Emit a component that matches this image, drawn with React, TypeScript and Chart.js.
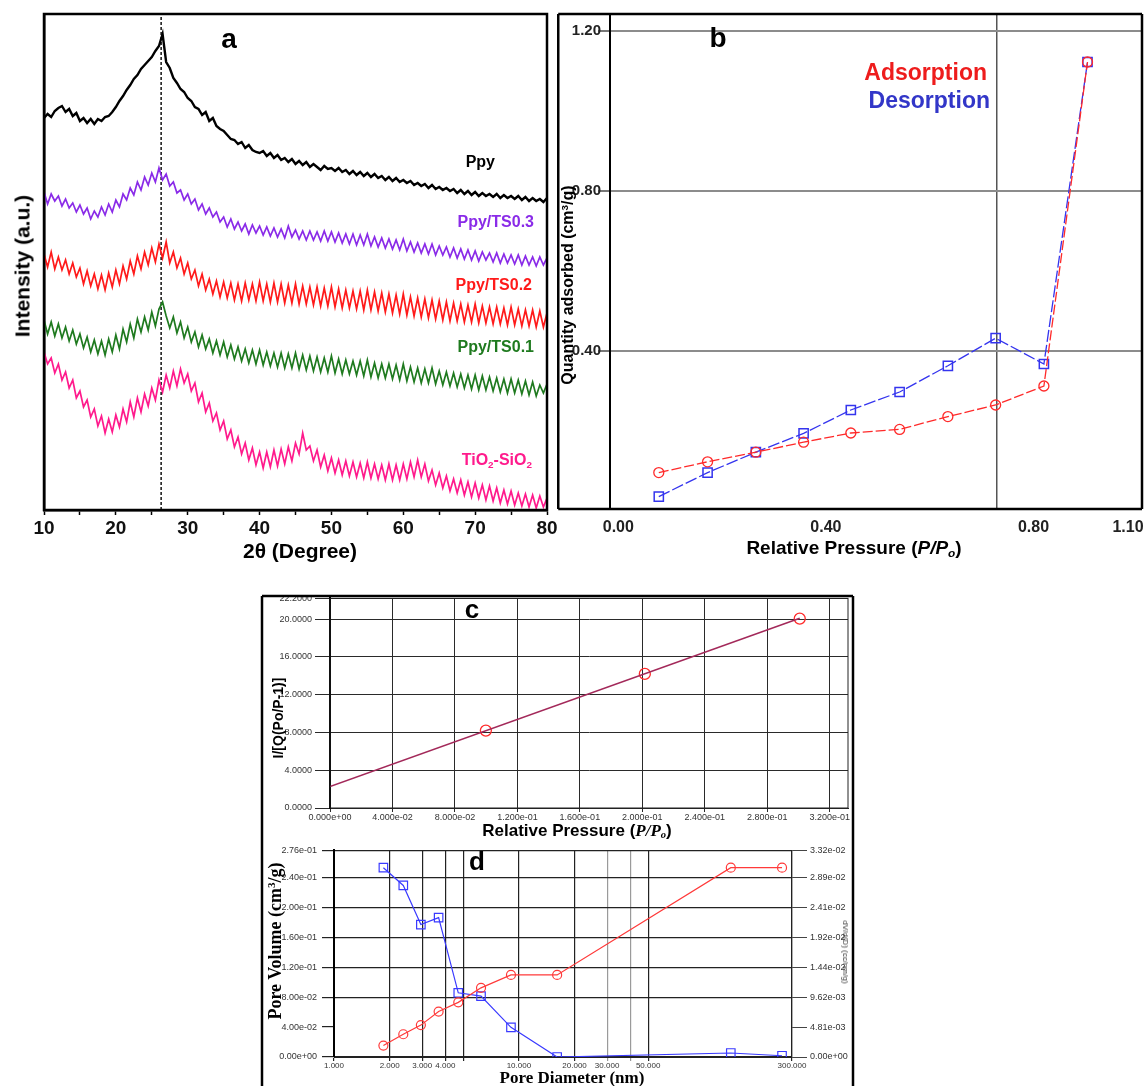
import React, { useEffect, useRef } from 'react';
import { Chart, registerables } from 'chart.js';

Chart.register(...registerables);

const SANS = '"Liberation Sans", Arial, Helvetica, sans-serif';
const SERIF = '"Liberation Serif", "Times New Roman", serif';
Chart.defaults.font.family = SANS;

// ---------------- Panel a : XRD patterns (stacked, arbitrary units) ----------------
const twoTheta = [
  10, 10.5, 11, 11.5, 12, 12.5, 13, 13.5, 14, 14.5, 15, 15.5, 16, 16.5, 17, 17.5, 18, 18.5, 19, 19.5,
  20, 20.5, 21, 21.5, 22, 22.5, 23, 23.5, 24, 24.5, 25, 25.5, 26, 26.5, 27, 27.5, 28, 28.5, 29, 29.5,
  30, 30.5, 31, 31.5, 32, 32.5, 33, 33.5, 34, 34.5, 35, 35.5, 36, 36.5, 37, 37.5, 38, 38.5, 39, 39.5,
  40, 40.5, 41, 41.5, 42, 42.5, 43, 43.5, 44, 44.5, 45, 45.5, 46, 46.5, 47, 47.5, 48, 48.5, 49, 49.5,
  50, 50.5, 51, 51.5, 52, 52.5, 53, 53.5, 54, 54.5, 55, 55.5, 56, 56.5, 57, 57.5, 58, 58.5, 59, 59.5,
  60, 60.5, 61, 61.5, 62, 62.5, 63, 63.5, 64, 64.5, 65, 65.5, 66, 66.5, 67, 67.5, 68, 68.5, 69, 69.5,
  70, 70.5, 71, 71.5, 72, 72.5, 73, 73.5, 74, 74.5, 75, 75.5, 76, 76.5, 77, 77.5, 78, 78.5, 79, 79.5,
  80,
];
const ppy = [
  392, 396, 393, 399, 402, 404, 398, 401, 394, 397, 389, 392, 387, 391, 386, 391, 389, 393, 394, 398,
  403, 409, 414, 420, 425, 431, 435, 441, 445, 449, 453, 459, 464, 476, 448, 442, 432, 427, 421, 418,
  412, 409, 403, 401, 395, 398, 389, 392, 384, 381, 379, 375, 371, 370, 366, 368, 362, 365, 360, 358,
  357, 359, 354, 357, 352, 355, 350, 352, 348, 351, 346, 349, 345, 348, 343, 346, 343, 340, 344, 341,
  342, 339, 342, 338, 340, 336, 339, 335, 338, 334, 337, 333, 336, 332, 334, 330, 333, 329, 332, 328,
  330, 327, 329, 325, 327, 324, 326, 322, 325, 321, 323, 320, 322, 319, 321, 317, 320, 316, 319, 315,
  318, 314, 317, 314, 316, 313, 316, 312, 315, 312, 314, 311, 314, 310, 313, 309, 312, 309, 311, 308,
  312,
];
const ppyTS03 = [
  318, 306, 316, 309, 314, 304, 311, 302, 307, 298, 305, 296, 302, 291, 299, 293, 303, 295, 306, 298,
  310, 303, 316, 310, 322, 315, 328, 320, 333, 325, 337, 328, 342, 330, 336, 324, 328, 317, 320, 310,
  316, 306, 311, 300, 306, 296, 302, 293, 298, 288, 293, 283, 291, 281, 288, 279, 286, 276, 285, 277,
  284, 275, 283, 274, 282, 273, 281, 272, 284, 273, 280, 271, 279, 270, 279, 270, 278, 269, 279, 269,
  278, 268, 277, 267, 276, 266, 276, 265, 275, 265, 276, 264, 273, 263, 272, 262, 271, 261, 270, 260,
  271, 259, 268, 258, 267, 257, 266, 256, 266, 255, 264, 255, 263, 253, 262, 252, 261, 251, 260, 250,
  259, 249, 258, 250, 257, 248, 257, 247, 256, 247, 255, 246, 255, 245, 254, 245, 253, 244, 253, 245,
  252,
];
const ppyTS02 = [
  256, 243, 258, 241, 253, 240, 250, 236, 247, 233, 242, 226, 239, 224, 236, 221, 235, 220, 237, 223,
  240, 226, 244, 231, 249, 236, 254, 241, 258, 245, 262, 248, 266, 252, 268, 247, 258, 242, 252, 236,
  247, 231, 240, 224, 236, 220, 231, 216, 229, 213, 228, 212, 227, 210, 226, 209, 227, 210, 226, 209,
  228, 209, 226, 208, 227, 208, 226, 207, 225, 207, 226, 206, 224, 206, 223, 205, 223, 204, 222, 204,
  223, 203, 221, 202, 220, 202, 219, 201, 219, 200, 220, 200, 218, 199, 217, 198, 216, 197, 215, 196,
  216, 195, 213, 194, 212, 193, 211, 192, 210, 191, 209, 190, 208, 189, 207, 189, 206, 188, 205, 188,
  206, 187, 204, 187, 203, 186, 203, 186, 202, 185, 203, 185, 201, 184, 200, 184, 200, 183, 199, 183,
  197,
];
const ppyTS01 = [
  190, 176, 188, 174, 186, 172, 183, 169, 180, 166, 176, 162, 173, 158, 170, 156, 169, 155, 171, 158,
  175, 161, 181, 168, 186, 172, 191, 178, 193, 180, 198, 184, 201, 208, 194, 182, 193, 177, 188, 172,
  183, 168, 178, 163, 175, 161, 171, 157, 169, 155, 168, 153, 165, 151, 163, 149, 161, 147, 160, 146,
  160, 145, 158, 144, 157, 143, 157, 142, 156, 142, 157, 141, 155, 140, 154, 139, 153, 138, 152, 138,
  154, 137, 151, 136, 150, 136, 149, 135, 149, 134, 150, 133, 147, 132, 146, 132, 146, 131, 145, 130,
  146, 129, 143, 128, 142, 127, 141, 127, 142, 126, 139, 125, 138, 124, 137, 123, 136, 122, 135, 121,
  135, 120, 134, 120, 133, 119, 132, 118, 131, 117, 131, 117, 130, 116, 129, 115, 128, 114, 125, 117,
  126,
];
const tio2sio2 = [
  158, 146, 152, 137, 146, 130, 138, 122, 130, 112, 119, 103, 110, 93, 101, 84, 94, 77, 91, 78,
  95, 83, 101, 88, 108, 93, 112, 98, 116, 104, 122, 110, 130, 118, 135, 122, 139, 124, 141, 127,
  136, 119, 127, 108, 117, 98, 107, 89, 97, 80, 89, 71, 80, 63, 73, 56, 67, 50, 62, 45,
  58, 42, 58, 43, 60, 44, 61, 46, 63, 49, 67, 56, 77, 60, 64, 49, 60, 43, 55, 39,
  52, 37, 50, 35, 49, 34, 48, 33, 47, 32, 48, 32, 46, 31, 45, 30, 46, 30, 45, 30,
  46, 31, 48, 33, 50, 33, 46, 29, 40, 25, 37, 22, 34, 19, 31, 17, 30, 15, 28, 13,
  27, 12, 25, 10, 24, 9, 22, 7, 20, 6, 19, 5, 17, 4, 16, 3, 15, 2, 14, 3,
  12,
];
const ppyPeakAngle = 26.3;
const aIntensityMax = 496;

// ---------------- Panel b : N2 isotherm ----------------
const relPressure = [0.078, 0.172, 0.265, 0.357, 0.448, 0.542, 0.635, 0.727, 0.82, 0.904];
const adsorption = [0.096, 0.123, 0.147, 0.172, 0.195, 0.204, 0.236, 0.265, 0.3125, 1.1225];
const desorption = [0.036, 0.096, 0.147, 0.194, 0.2525, 0.2975, 0.363, 0.432, 0.3675, 1.1225];
const bXTickValues = [0, 0.4, 0.8, 0.982];
const bXTickLabels = ['0.00', '0.40', '0.80', '1.10'];
const bYTickValues = [0.4, 0.8, 1.2];
const bYTickLabels = ['0.40', '0.80', '1.20'];
const bVerticalGrid = [0.729];

// ---------------- Panel c : BET plot ----------------
const betPressure = [0.0998, 0.2016, 0.3008];
const betValue = [8.2, 14.2, 20.06];
const betFitPressure = [0, 0.3008];
const betFitValue = [2.27, 20.1];
const cXTickValues = [0, 0.04, 0.08, 0.12, 0.16, 0.2, 0.24, 0.28, 0.32];
const cXTickLabels = ['0.000e+00', '4.000e-02', '8.000e-02', '1.200e-01', '1.600e-01', '2.000e-01', '2.400e-01', '2.800e-01', '3.200e-01'];
const cYTickValues = [0, 4, 8, 12, 16, 20, 22.2];
const cYTickLabels = ['0.0000', '4.0000', '8.0000', '12.0000', '16.0000', '20.0000', '22.2000'];

// ---------------- Panel d : BJH pore distribution ----------------
const poreDiameter = [1.85, 2.37, 2.95, 3.68, 4.7, 6.24, 9.06, 16.1, 140, 265];
const cumPoreVolume = [0.0153, 0.0304, 0.0426, 0.0607, 0.073, 0.0924, 0.1096, 0.1096, 0.2529, 0.2529];
const dVdD = [0.03042, 0.02757, 0.02128, 0.02239, 0.01032, 0.00978, 0.00476, 0, 0.00064, 0.0002];
const dXTickValues = [1, 2, 3, 4, 5, 10, 20, 30, 40, 50, 300];
const dXTickLabels = ['1.000', '2.000', '3.000', '4.000', '', '10.000', '20.000', '30.000', '', '50.000', '300.000'];
const dYTickValues = [0, 0.04, 0.08, 0.12, 0.16, 0.2, 0.24, 0.276];
const dYTickLabels = ['0.00e+00', '4.00e-02', '8.00e-02', '1.20e-01', '1.60e-01', '2.00e-01', '2.40e-01', '2.76e-01'];
const dY2TickValues = [0, 0.00481, 0.00962, 0.0144, 0.0192, 0.0241, 0.0289, 0.0332];
const dY2TickLabels = ['0.00e+00', '4.81e-03', '9.62e-03', '1.44e-02', '1.92e-02', '2.41e-02', '2.89e-02', '3.32e-02'];

const PURPLE = '#8a2be8';
const RED = '#ff1a1a';
const GREEN = '#1f7a1f';
const PINK = '#ff1a8c';

type Line = { x1: number; y1: number; x2: number; y2: number; w: number; c?: string };

function framePlugin(lines: Line[], areaWidth = 0, areaColor = '#000') {
  return {
    id: 'frameLines',
    afterDraw(chart: any) {
      const ctx = chart.ctx;
      ctx.save();
      if (areaWidth > 0) {
        const a = chart.chartArea;
        ctx.strokeStyle = areaColor;
        ctx.lineWidth = areaWidth;
        ctx.strokeRect(a.left, a.top, a.right - a.left, a.bottom - a.top);
      }
      for (const l of lines) {
        ctx.strokeStyle = l.c || '#000';
        ctx.lineWidth = l.w;
        ctx.beginPath();
        ctx.moveTo(l.x1, l.y1);
        ctx.lineTo(l.x2, l.y2);
        ctx.stroke();
      }
      ctx.restore();
    },
  };
}

const setTicks = (vals: number[]) => (s: any) => {
  s.ticks = vals.map((v) => ({ value: v }));
};

const fixHeight = (h: number) => (s: any) => {
  s.height = h;
  s.paddingLeft = 0;
  s.paddingRight = 0;
};

function ChartBox({ left, top, width, height, make }: any) {
  const ref = useRef<HTMLCanvasElement | null>(null);
  useEffect(() => {
    const chart = new Chart(ref.current as HTMLCanvasElement, make());
    return () => chart.destroy();
  }, []);
  return (
    <canvas
      ref={ref}
      width={width}
      height={height}
      style={{ position: 'absolute', left, top, width, height }}
    />
  );
}

const common = {
  responsive: false,
  animation: false,
  devicePixelRatio: 1,
  events: [],
  plugins: { legend: { display: false }, tooltip: { enabled: false } },
};

const xy = (xs: number[], ys: number[]) => xs.map((x, i) => ({ x, y: ys[i] }));

function makeA() {
  const line = (data: number[], color: string, w = 1.7) => ({
    data: xy(twoTheta, data),
    borderColor: color,
    borderWidth: w,
    pointRadius: 0,
    tension: 0,
  });
  return {
    type: 'line',
    data: {
      datasets: [
        line(ppy, '#000000', 2.4),
        line(ppyTS03, PURPLE),
        line(ppyTS02, RED),
        line(ppyTS01, GREEN),
        line(tio2sio2, PINK),
        {
          data: [
            { x: ppyPeakAngle, y: 0 },
            { x: ppyPeakAngle, y: aIntensityMax },
          ],
          borderColor: '#000',
          borderWidth: 1.4,
          borderDash: [3, 2],
          pointRadius: 0,
        },
      ],
    },
    options: {
      ...common,
      layout: { autoPadding: false, padding: { left: 0, top: 14, right: 18, bottom: 0 } },
      scales: {
        x: {
          type: 'linear',
          min: 10,
          max: 80,
          afterFit: fixHeight(35),
          ticks: {
            stepSize: 5,
            autoSkip: false,
            maxRotation: 0,
            callback: (v: number) => (v % 10 === 0 ? String(v) : ''),
            font: { size: 19, weight: 'bold' },
            color: '#111',
            padding: 2,
          },
          grid: { drawOnChartArea: false, drawTicks: true, tickLength: 5, tickColor: '#000', tickWidth: 1.5 },
          border: { color: '#000', width: 2.5 },
        },
        y: {
          min: 0,
          max: aIntensityMax,
          afterFit: (s: any) => {
            s.width = 44;
          },
          ticks: { display: false },
          grid: { display: false },
          border: { color: '#000', width: 2.5 },
        },
      },
    },
    plugins: [framePlugin([], 2.5)],
  };
}

function makeB() {
  return {
    type: 'line',
    data: {
      datasets: [
        {
          label: 'Adsorption',
          data: xy(relPressure, adsorption),
          borderColor: '#ff2a2a',
          borderWidth: 1.3,
          borderDash: [10, 3],
          pointStyle: 'circle',
          pointRadius: 5,
          pointBorderWidth: 1.3,
          pointBorderColor: '#ff2a2a',
          pointBackgroundColor: 'rgba(0,0,0,0)',
        },
        {
          label: 'Desorption',
          data: xy(relPressure, desorption),
          borderColor: '#3434ee',
          borderWidth: 1.3,
          borderDash: [12, 3],
          pointStyle: 'rect',
          pointRadius: 6.5,
          pointBorderWidth: 1.5,
          pointBorderColor: '#3434ee',
          pointBackgroundColor: 'rgba(0,0,0,0)',
        },
      ],
    },
    options: {
      ...common,
      layout: { autoPadding: false, padding: { left: 0, top: 14, right: 2, bottom: 0 } },
      scales: {
        x: {
          type: 'linear',
          min: -0.016,
          max: 1.009,
          afterBuildTicks: setTicks(bXTickValues),
          afterFit: fixHeight(51),
          ticks: {
            autoSkip: false,
            maxRotation: 0,
            callback: (_v: number, i: number) => bXTickLabels[i],
            font: { size: 16, weight: 'bold' },
            color: '#222',
            padding: 9,
          },
          grid: { display: false, drawTicks: false },
          border: { display: false },
        },
        xg: {
          type: 'linear',
          position: 'bottom',
          min: -0.016,
          max: 1.009,
          afterBuildTicks: setTicks(bVerticalGrid),
          afterFit: fixHeight(0),
          ticks: { display: false },
          grid: { color: '#555', lineWidth: 1.5, drawTicks: false },
          border: { display: false },
        },
        y: {
          min: 0.005,
          max: 1.2425,
          afterBuildTicks: setTicks(bYTickValues),
          afterFit: (s: any) => {
            s.width = 53;
          },
          ticks: {
            callback: (_v: number, i: number) => bYTickLabels[i],
            font: { size: 15, weight: 'bold' },
            color: '#222',
            padding: -3,
          },
          grid: { color: '#8c8c8c', lineWidth: 2, tickLength: 12, tickColor: '#777' },
          border: { color: '#000', width: 2 },
        },
      },
    },
    plugins: [
      framePlugin([
        { x1: 1.25, y1: 14, x2: 585, y2: 14, w: 2.5 },
        { x1: 585, y1: 14, x2: 585, y2: 509, w: 2.5 },
        { x1: 1.25, y1: 509, x2: 585, y2: 509, w: 2.5 },
        { x1: 1.25, y1: 14, x2: 1.25, y2: 509, w: 2.5 },
      ]),
    ],
  };
}

function makeC() {
  return {
    type: 'line',
    data: {
      datasets: [
        {
          data: xy(betFitPressure, betFitValue),
          borderColor: '#a3295a',
          borderWidth: 1.5,
          pointRadius: 0,
        },
        {
          data: xy(betPressure, betValue),
          showLine: false,
          pointStyle: 'circle',
          pointRadius: 5.5,
          pointBorderWidth: 1.3,
          pointBorderColor: '#ff2a2a',
          pointBackgroundColor: 'rgba(0,0,0,0)',
        },
      ],
    },
    options: {
      ...common,
      layout: { autoPadding: false, padding: { left: 0, top: 8, right: 12, bottom: 0 } },
      scales: {
        x: {
          type: 'linear',
          min: 0,
          max: 0.3317,
          afterBuildTicks: setTicks(cXTickValues),
          afterFit: fixHeight(32),
          ticks: {
            autoSkip: false,
            maxRotation: 0,
            callback: (_v: number, i: number) => cXTickLabels[i],
            font: { size: 9 },
            color: '#333',
            padding: 0,
          },
          grid: { color: '#2a2a2a', lineWidth: 1, tickLength: 4 },
          border: { color: '#222', width: 1 },
        },
        y: {
          min: 0,
          max: 22.2,
          afterBuildTicks: setTicks(cYTickValues),
          afterFit: (s: any) => {
            s.width = 80;
          },
          ticks: {
            callback: (_v: number, i: number) => cYTickLabels[i],
            font: { size: 9 },
            color: '#333',
            padding: 3,
          },
          grid: { color: '#2a2a2a', lineWidth: 1, tickLength: 15 },
          border: { color: '#000', width: 2 },
        },
      },
    },
    plugins: [
      framePlugin(
        [
          { x1: 12, y1: 6, x2: 12, y2: 250, w: 2.5 },
          { x1: 12, y1: 6, x2: 603, y2: 6, w: 2.5 },
          { x1: 603, y1: 6, x2: 603, y2: 250, w: 2.5 },
        ],
        1,
        '#222'
      ),
    ],
  };
}

function makeD() {
  return {
    type: 'line',
    data: {
      datasets: [
        {
          data: xy(poreDiameter, cumPoreVolume),
          yAxisID: 'y',
          borderColor: '#ff3a3a',
          borderWidth: 1.2,
          pointStyle: 'circle',
          pointRadius: 4.5,
          pointBorderWidth: 1.2,
          pointBorderColor: '#ff3a3a',
          pointBackgroundColor: 'rgba(0,0,0,0)',
        },
        {
          data: xy(poreDiameter, dVdD),
          yAxisID: 'y2',
          borderColor: '#3a3aff',
          borderWidth: 1.2,
          pointStyle: 'rect',
          pointRadius: 6,
          pointBorderWidth: 1.2,
          pointBorderColor: '#3a3aff',
          pointBackgroundColor: 'rgba(0,0,0,0)',
        },
      ],
    },
    options: {
      ...common,
      layout: { autoPadding: false, padding: { left: 0, top: 8, right: 0, bottom: 0 } },
      scales: {
        x: {
          type: 'logarithmic',
          min: 1,
          max: 300,
          afterBuildTicks: setTicks(dXTickValues),
          afterFit: fixHeight(29),
          ticks: {
            autoSkip: false,
            maxRotation: 0,
            callback: (_v: number, i: number) => dXTickLabels[i],
            font: { size: 8 },
            color: '#333',
            padding: 0,
          },
          grid: {
            color: (c: any) => (c.tick && (c.tick.value === 30 || c.tick.value === 40) ? '#9a9a9a' : '#222'),
            lineWidth: 1.2,
            tickLength: 4,
          },
          border: { color: '#222', width: 1 },
        },
        y: {
          position: 'left',
          min: 0,
          max: 0.276,
          afterBuildTicks: setTicks(dYTickValues),
          afterFit: (s: any) => {
            s.width = 84;
          },
          ticks: {
            callback: (_v: number, i: number) => dYTickLabels[i],
            font: { size: 9 },
            color: '#333',
            padding: 5,
          },
          grid: {
            color: (c: any) => (c.tick && c.tick.value === 0.04 ? 'rgba(0,0,0,0)' : '#222'),
            tickColor: '#222',
            lineWidth: 1.2,
            tickLength: 12,
          },
          border: { color: '#000', width: 2 },
        },
        y2: {
          position: 'right',
          min: 0,
          max: 0.0332,
          afterBuildTicks: setTicks(dY2TickValues),
          afterFit: (s: any) => {
            s.width = 68;
          },
          ticks: {
            callback: (_v: number, i: number) => dY2TickLabels[i],
            font: { size: 9 },
            color: '#333',
            padding: 3,
          },
          grid: { drawOnChartArea: false, tickColor: '#444', tickLength: 15, lineWidth: 1 },
          border: { color: '#222', width: 1.2 },
        },
      },
    },
    plugins: [
      framePlugin([
        { x1: 12, y1: 0, x2: 12, y2: 246, w: 2.5 },
        { x1: 603, y1: 0, x2: 603, y2: 246, w: 2.5 },
      ]),
    ],
  };
}

function Txt({ x, y, size, bold = true, color = '#000', anchor = 'center', rotate = 0, family = SANS, children }: any) {
  const tx = anchor === 'center' ? '-50%' : anchor === 'right' ? '-100%' : '0';
  return (
    <div
      style={{
        position: 'absolute',
        left: x,
        top: y,
        transform: `translate(${tx}, -50%) rotate(${rotate}deg)`,
        whiteSpace: 'nowrap',
        lineHeight: 1,
        fontSize: size,
        fontWeight: bold ? 'bold' : 'normal',
        fontFamily: family,
        color,
      }}
    >
      {children}
    </div>
  );
}

const subStyle = { fontSize: '0.62em', verticalAlign: '-0.28em', lineHeight: 0 } as const;
const supStyle = { fontSize: '0.62em', verticalAlign: '0.55em', lineHeight: 0 } as const;

export default function App() {
  return (
    <div
      style={{
        position: 'absolute',
        left: 0,
        top: 0,
        width: 1144,
        height: 1086,
        background: '#fff',
        overflow: 'hidden',
      }}
    >
      <ChartBox left={0} top={0} width={565} height={545} make={makeA} />
      <ChartBox left={557} top={0} width={587} height={560} make={makeB} />
      <ChartBox left={250} top={590} width={610} height={250} make={makeC} />
      <ChartBox left={250} top={840} width={610} height={246} make={makeD} />

      {/* panel a texts */}
      <Txt x={229} y={39} size={28}>a</Txt>
      <Txt x={22} y={266} size={21} rotate={-90}>Intensity (a.u.)</Txt>
      <Txt x={300} y={550} size={21}>2θ (Degree)</Txt>
      <Txt x={495} y={162} size={16} anchor="right">Ppy</Txt>
      <Txt x={534} y={222} size={16} anchor="right" color={PURPLE}>Ppy/TS0.3</Txt>
      <Txt x={532} y={285} size={16} anchor="right" color={RED}>Ppy/TS0.2</Txt>
      <Txt x={534} y={347} size={16} anchor="right" color={GREEN}>Ppy/TS0.1</Txt>
      <Txt x={532} y={460} size={16} anchor="right" color={PINK}>
        TiO<span style={subStyle}>2</span>-SiO<span style={subStyle}>2</span>
      </Txt>

      {/* panel b texts */}
      <Txt x={718} y={38} size={28}>b</Txt>
      <Txt x={987} y={72} size={23} anchor="right" color="#ee1c1c">Adsorption</Txt>
      <Txt x={990} y={100} size={23} anchor="right" color="#3236c8">Desorption</Txt>
      <Txt x={568} y={285} size={16} rotate={-90}>
        Quantity adsorbed (cm<span style={supStyle}>3</span>/g)
      </Txt>
      <Txt x={854} y={547} size={19}>
        Relative Pressure (<i>P/P<span style={subStyle}>o</span></i>)
      </Txt>

      {/* panel c texts */}
      <Txt x={472} y={609} size={26}>c</Txt>
      <Txt x={278} y={718} size={14} rotate={-90}>I/[Q(Po/P-1)]</Txt>
      <Txt x={577} y={830} size={17}>
        Relative Pressure (
        <i style={{ fontFamily: SERIF }}>
          P/P<span style={subStyle}>o</span>
        </i>
        )
      </Txt>

      {/* panel d texts */}
      <Txt x={477} y={861} size={26}>d</Txt>
      <Txt x={275} y={941} size={18} rotate={-90} family={SERIF}>
        Pore Volume (cm<span style={supStyle}>3</span>/g)
      </Txt>
      <Txt x={572} y={1077} size={17} family={SERIF}>Pore Diameter (nm)</Txt>
      <Txt x={845} y={952} size={8} bold={false} rotate={90} color="#333">dV/d(D) (cc/nm/g)</Txt>
    </div>
  );
}
